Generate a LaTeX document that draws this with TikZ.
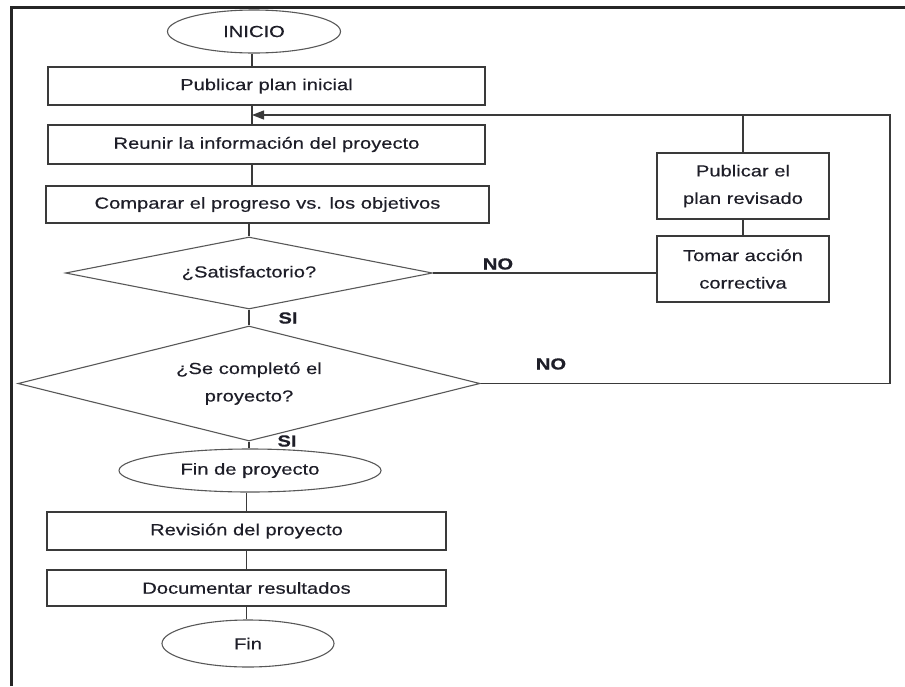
\documentclass[tikz,border=0pt]{standalone}
\usepackage{fontspec}
\setmainfont{Liberation Sans}[FakeStretch=1.26,FakeBold=0.4]
\usetikzlibrary{shapes.geometric,arrows.meta}
\definecolor{ln}{HTML}{3A3A3A}
\definecolor{txt}{HTML}{1E1E28}
\begin{document}
\begin{tikzpicture}[x=1pt,y=-1pt,
  every node/.style={text=txt,font=\fontsize{16}{27.5}\selectfont},
  boxst/.style={draw=ln,line width=1.3pt,rectangle,inner sep=0pt,align=center},
  ovalst/.style={draw=ln!85,line width=1.1pt,ellipse,inner sep=0pt},
  diast/.style={draw=ln!85,line width=1.1pt,diamond,aspect=5,inner sep=0pt,align=center},
  conn/.style={draw=ln,line width=1.3pt},
  lbl/.style={font=\fontsize{16}{18}\selectfont\bfseries}]
\useasboundingbox (0,0) rectangle (905,686);
% frame
\draw[line width=3pt,black!85] (11,686) -- (11,7) -- (905,7);
\coordinate (sp) at (252,0);
% nodes
\node[ovalst,minimum width=173pt,minimum height=43pt] (inicio) at (254,31.5) {INICIO};
\node[boxst,minimum width=437pt,minimum height=38pt] (pub) at (266.5,86) {Publicar plan inicial};
\node[boxst,minimum width=437pt,minimum height=39pt] (reunir) at (266.5,144.5) {Reunir la información del proyecto};
\node[boxst,minimum width=443pt,minimum height=37pt] (comp) at (267.5,204.5) {Comparar el progreso vs. los objetivos};
\node[diast,minimum width=367pt,minimum height=72pt] (sat) at (249,273) {¿Satisfactorio?};
\node[diast,minimum width=462pt,minimum height=115pt] (comple) at (249,383.5) {¿Se completó el\\proyecto?};
\node[boxst,minimum width=172pt,minimum height=66pt] (revpl) at (743,186) {Publicar el\\plan revisado};
\node[boxst,minimum width=172pt,minimum height=66pt] (tomar) at (743,269) {Tomar acción\\correctiva};
\node[ovalst,minimum width=262pt,minimum height=43pt] (finp) at (250,470.5) {Fin de proyecto};
\node[boxst,minimum width=399pt,minimum height=38pt] (revis) at (246.5,531) {Revisión del proyecto};
\node[boxst,minimum width=399pt,minimum height=36pt] (docu) at (246.5,588) {Documentar resultados};
\node[ovalst,minimum width=172pt,minimum height=47pt] (fin) at (248,643.5) {Fin};
% labels
\node[lbl] (si1) at (288,318) {SI};
\node[lbl] (si2) at (287,441) {SI};
\node[lbl] (no1) at (498,264) {NO};
\node[lbl] (no2) at (551,364) {NO};
% connectors
\coordinate (j) at (252,115);
\coordinate (c2) at (890,115);
\draw[conn] (sp |- inicio.south) -- (sp |- pub.north);
\draw[conn] (sp |- pub.south) -- (sp |- reunir.north);
\draw[conn] (sp |- reunir.south) -- (sp |- comp.north);
\draw[conn] (sat.north |- comp.south) -- (sat.north);
\draw[conn] (sat.south) -- (comple.north);
\draw[conn] (comple.south) -- (comple.south |- finp.north);
\draw[conn] (finp.south -| revis.north) -- (revis.north);
\draw[conn] (revis.south) -- (docu.north);
\draw[conn] (docu.south) -- (docu.south |- fin.north);
\draw[conn] (sat.east) -- (tomar.west |- sat.east);
\draw[conn] (tomar.north) -- (revpl.south);
\draw[conn] (revpl.north) -- (revpl.north |- j);
\draw[conn,-{Triangle[length=12pt,width=9pt]}] (comple.east) -- (comple.east -| c2) -- (c2) -- (j);
\end{tikzpicture}
\end{document}
